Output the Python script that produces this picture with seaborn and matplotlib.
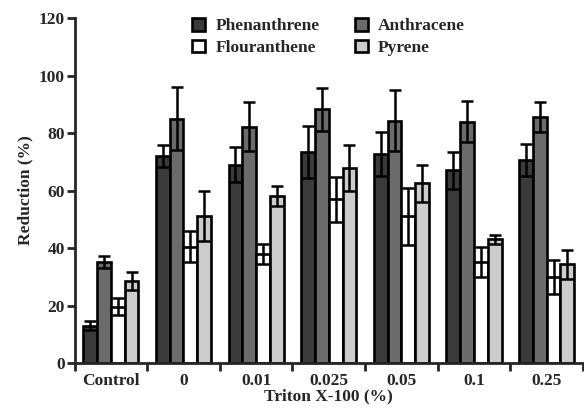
import matplotlib
matplotlib.use("Agg")
import matplotlib.pyplot as plt
import seaborn as sns
import pandas as pd
from matplotlib.ticker import FixedLocator, NullFormatter, FixedFormatter

categories = ['Control', '0', '0.01', '0.025', '0.05', '0.1', '0.25']
series = ['Phenanthrene', 'Anthracene', 'Flouranthene', 'Pyrene']
phen = [13, 72, 69, 73.3, 72.7, 67, 70.6]
phen_err = [1.5, 3.8, 6, 9, 7.5, 6.4, 5.6]
anth = [35.2, 85, 82.2, 88.3, 84.3, 84, 85.5]
anth_err = [2, 11, 8.5, 7.5, 10.7, 7.3, 5.2]
flour = [19.6, 40.5, 38, 57, 51, 35, 30]
flour_err = [3, 5.4, 3.5, 7.8, 9.8, 5.2, 6]
pyrene = [28.5, 51, 58, 68, 62.5, 43, 34.3]
pyrene_err = [3, 8.7, 3.5, 8, 6.5, 1.5, 5]
yticks = [0, 20, 40, 60, 80, 100, 120]

colors = ['#3a3a3a', '#6b6b6b', '#ffffff', '#cccccc']

sns.set_style("ticks")
plt.rcParams['font.family'] = ['Liberation Serif', 'DejaVu Serif']
plt.rcParams['font.weight'] = 'bold'

FS = 12.5

values = [phen, anth, flour, pyrene]
errors = [phen_err, anth_err, flour_err, pyrene_err]
rows = []
for s, vals in zip(series, values):
    for c, v in zip(categories, vals):
        rows.append({'treatment': c, 'compound': s, 'value': v})
df = pd.DataFrame(rows)

fig = plt.figure(figsize=(5.84, 4.15), dpi=100)
ax = fig.add_axes([0.1276, 0.1253, 0.8707, 0.8313])

sns.barplot(data=df, x='treatment', y='value', hue='compound',
            order=categories, hue_order=series, palette=colors,
            saturation=1, edgecolor='black', linewidth=1.9, width=0.76,
            errorbar=None, ax=ax)

for cont, errs in zip(ax.containers, errors):
    for bar, e in zip(cont, errs):
        x = bar.get_x() + bar.get_width() / 2
        y = bar.get_height()
        ax.errorbar(x, y, yerr=e, fmt='none', ecolor='black',
                    elinewidth=1.8, capsize=4.6, capthick=1.8, zorder=5)

ax.set_ylim(0, 120)
ax.set_xlim(-0.5, 6.5)
ax.set_yticks(yticks)
ax.set_yticklabels([str(t) for t in yticks])

# ticks at group boundaries, labels at centers
ax.xaxis.set_major_locator(FixedLocator([i - 0.5 for i in range(len(categories) + 1)]))
ax.xaxis.set_major_formatter(NullFormatter())
ax.xaxis.set_minor_locator(FixedLocator(list(range(len(categories)))))
ax.xaxis.set_minor_formatter(FixedFormatter(categories))
ax.tick_params(axis='x', which='minor', length=0, labelsize=FS, pad=7)
ax.tick_params(axis='x', which='major', length=6, width=2, direction='out')
ax.tick_params(axis='y', length=6, width=2, direction='out', labelsize=FS, pad=1)
for lab in ax.get_xticklabels(minor=True) + ax.get_yticklabels():
    lab.set_fontweight('bold')

ax.set_xlabel('Triton X-100 (%)', fontsize=FS, fontweight='bold', labelpad=0)
ax.set_ylabel('Reduction (%)', fontsize=FS, fontweight='bold', labelpad=4)

for side in ['left', 'bottom']:
    ax.spines[side].set_linewidth(2)
for side in ['top', 'right']:
    ax.spines[side].set_visible(False)

handles, labels = ax.get_legend_handles_labels()
order = [0, 2, 1, 3]
leg = ax.legend([handles[i] for i in order], [labels[i] for i in order],
                ncol=2, loc='upper center', bbox_to_anchor=(0.5, 1.0),
                frameon=False, borderaxespad=0, borderpad=0,
                handlelength=0.75, handleheight=0.75, handletextpad=0.6,
                columnspacing=2.0, labelspacing=0.3,
                prop={'family': 'Liberation Serif', 'weight': 'bold', 'size': FS})

fig.savefig('out.png', dpi=100)
